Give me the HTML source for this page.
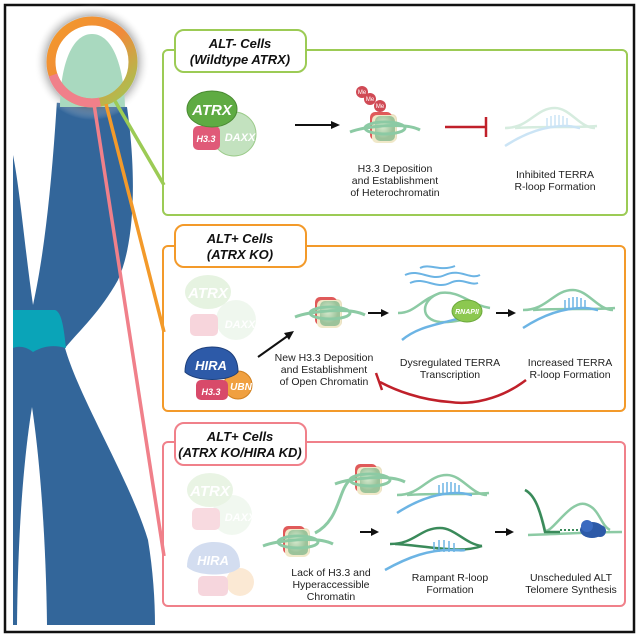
<!DOCTYPE html>
<html><head><meta charset="utf-8"><style>
html,body{margin:0;padding:0;background:#fff}
svg{display:block}
text{font-family:"Liberation Sans",sans-serif}
.h{font-weight:bold;font-style:italic;font-size:13px;fill:#111}
.t{font-size:10.5px;fill:#222}
.w{font-weight:bold;font-style:italic;fill:#fff}
</style></head><body>
<svg width="640" height="637" viewBox="0 0 640 637" xmlns="http://www.w3.org/2000/svg">
<defs>
<linearGradient id="ring" x1="0" y1="0" x2="1" y2="1">
<stop offset="0" stop-color="#f39a2a"/><stop offset="0.5" stop-color="#f08a3a"/><stop offset="1" stop-color="#9ccb55"/></linearGradient>
<radialGradient id="glow"><stop offset="0" stop-color="#fff" stop-opacity="0"/><stop offset="0.68" stop-color="#fff" stop-opacity="0"/><stop offset="0.8" stop-color="#888" stop-opacity="0.5"/><stop offset="1" stop-color="#fff" stop-opacity="0"/></radialGradient>
<radialGradient id="nuc" cx="0.4" cy="0.4"><stop offset="0" stop-color="#d8ebd0"/><stop offset="1" stop-color="#9cc39a"/></radialGradient>
<g id="nucl">
<rect x="-12" y="-14" width="24" height="28" rx="5" fill="#e8e0c0"/>
<rect x="-15" y="-16" width="22" height="28" rx="5" fill="#e05a5a"/>
<rect x="-13" y="-13" width="24" height="28" rx="5" fill="#f0e8c8"/>
<rect x="-10" y="-12" width="20" height="25" rx="5" fill="url(#nuc)"/>
<path d="M-35,4 C-20,-2 20,-6 35,2" stroke="#8ccaa4" stroke-width="3" fill="none"/>
<ellipse cx="0" cy="0" rx="20" ry="6" stroke="#8ccaa4" stroke-width="3" fill="none"/>
</g>
<g id="rloop">
<path d="M0,20 C25,20 30,0 50,0 C65,0 75,20 90,20" stroke="#8ccaa4" stroke-width="2.5" fill="none"/>
<path d="M10,20 C40,18 70,20 92,18" stroke="#8ccaa4" stroke-width="2.5" fill="none"/>
<path d="M0,38 C20,25 40,18 60,18 C70,18 72,20 75,20" stroke="#6cb4e4" stroke-width="2.5" fill="none"/>
<g stroke="#6cb4e4" stroke-width="1.5">
<line x1="42" y1="10" x2="42" y2="20"/><line x1="46" y1="8" x2="46" y2="19"/><line x1="50" y1="7" x2="50" y2="19"/><line x1="54" y1="7" x2="54" y2="19"/><line x1="58" y1="8" x2="58" y2="19"/><line x1="62" y1="10" x2="62" y2="19"/></g>
</g>
</defs>
<rect x="5" y="5" width="629" height="627" fill="#fff" stroke="#111" stroke-width="2.5"/>
<!-- chromosome -->
<path d="M13,100 L127,107 C136,170 136,240 118,280 C100,312 80,330 65,348 C80,400 130,480 148,540 C153,570 155,600 155,625 L13,625 Z" fill="#33669a"/>
<path d="M13,100 L57,100 C52,180 45,250 33,305 C25,250 20,190 13,155 Z" fill="#fff"/>
<path d="M17,625 C18,520 25,450 32,407 C40,460 46,540 47,625 Z" fill="#fff"/>
<path d="M13,310 L55,310 C62,312 64,330 66,348 C55,345 45,345 33,352 C25,346 18,346 13,348 Z" fill="#0aa4b8"/>
<circle cx="92" cy="62" r="58" fill="url(#glow)"/>
<path d="M60,107 C60,70 70,34 92,34 C114,34 124,70 125,107 Z" fill="#a9d9bf"/>
<circle cx="92" cy="62" r="41" fill="none" stroke="url(#ring)" stroke-width="9"/>
<path d="M53,75 A41,41 0 0 0 100,102" fill="none" stroke="#f0808a" stroke-width="9"/>
<line x1="115" y1="101" x2="164" y2="185" stroke="#9ccb55" stroke-width="3.5"/>
<line x1="106" y1="104" x2="164" y2="332" stroke="#f39a2a" stroke-width="3.5"/>
<line x1="94" y1="104" x2="164" y2="556" stroke="#f0808a" stroke-width="3.5"/>
<!-- panels -->
<rect x="163" y="50" width="464" height="165" rx="5" fill="none" stroke="#9ccb55" stroke-width="2"/>
<rect x="175" y="30" width="131" height="42" rx="9" fill="#fff" stroke="#9ccb55" stroke-width="2"/>
<text class="h" x="240" y="48" text-anchor="middle">ALT- Cells</text>
<text class="h" x="240" y="64" text-anchor="middle">(Wildtype ATRX)</text>
<rect x="163" y="246" width="462" height="165" rx="5" fill="none" stroke="#f39a2a" stroke-width="2"/>
<rect x="175" y="225" width="131" height="42" rx="9" fill="#fff" stroke="#f39a2a" stroke-width="2"/>
<text class="h" x="240" y="243" text-anchor="middle">ALT+ Cells</text>
<text class="h" x="240" y="259" text-anchor="middle">(ATRX KO)</text>
<rect x="163" y="442" width="462" height="164" rx="5" fill="none" stroke="#f0808a" stroke-width="2"/>
<rect x="175" y="423" width="131" height="42" rx="9" fill="#fff" stroke="#f0808a" stroke-width="2"/>
<text class="h" x="240" y="441" text-anchor="middle">ALT+ Cells</text>
<text class="h" x="240" y="457" text-anchor="middle">(ATRX KO/HIRA KD)</text>
<!-- green panel -->
<circle cx="234" cy="134" r="22" fill="#c3e2bf" stroke="#9ccb8a"/>
<rect x="193" y="126" width="27" height="24" rx="5" fill="#e05a78"/>
<ellipse cx="212" cy="109" rx="25" ry="18" fill="#5fab43" stroke="#4a8a32"/>
<text class="w" x="212" y="115" text-anchor="middle" font-size="15">ATRX</text>
<text class="w" x="206" y="142" text-anchor="middle" font-size="9">H3.3</text>
<text class="w" x="240" y="141" text-anchor="middle" font-size="11">DAXX</text>
<line x1="295" y1="125" x2="333" y2="125" stroke="#111" stroke-width="2"/><path d="M340,125 L331,121 L331,129 Z" fill="#111"/>
<use href="#nucl" x="385" y="128"/>
<circle cx="362" cy="92" r="6" fill="#d04a55"/><circle cx="370" cy="99" r="6" fill="#d04a55"/><circle cx="380" cy="106" r="6" fill="#d04a55"/>
<text x="362" y="94" font-size="6" fill="#fff" text-anchor="middle">Me</text><text x="370" y="101" font-size="6" fill="#fff" text-anchor="middle">Me</text><text x="380" y="108" font-size="6" fill="#fff" text-anchor="middle">Me</text>
<line x1="445" y1="127" x2="486" y2="127" stroke="#c0202a" stroke-width="2.5"/><line x1="486" y1="117" x2="486" y2="137" stroke="#c0202a" stroke-width="2.5"/>
<g opacity="0.35"><use href="#rloop" x="505" y="108"/></g>
<text class="t" text-anchor="middle" x="395" y="172">H3.3 Deposition</text>
<text class="t" text-anchor="middle" x="395" y="184">and Establishment</text>
<text class="t" text-anchor="middle" x="395" y="196">of Heterochromatin</text>
<text class="t" text-anchor="middle" x="555" y="178">Inhibited TERRA</text>
<text class="t" text-anchor="middle" x="555" y="190">R-loop Formation</text>
<!-- orange panel -->
<g opacity="0.25">
<circle cx="236" cy="320" r="20" fill="#c3e2bf"/><rect x="190" y="314" width="28" height="22" rx="5" fill="#e05a78"/>
<ellipse cx="208" cy="292" rx="23" ry="17" fill="#9fd08a"/>
<text class="w" x="208" y="298" text-anchor="middle" font-size="15">ATRX</text><text class="w" x="240" y="328" text-anchor="middle" font-size="11">DAXX</text></g>
<circle cx="238" cy="385" r="14" fill="#f0a040" stroke="#d08020"/>
<rect x="196" y="380" width="32" height="20" rx="5" fill="#d84a6a"/>
<path d="M185,372 C185,352 200,347 212,347 C228,347 238,355 238,372 C230,382 195,382 185,372 Z" fill="#2d5aa8" stroke="#1e3f7a"/>
<text class="w" x="211" y="370" text-anchor="middle" font-size="13">HIRA</text>
<text class="w" x="211" y="395" text-anchor="middle" font-size="9">H3.3</text>
<text class="w" x="241" y="390" text-anchor="middle" font-size="10">UBN</text>
<line x1="258" y1="357" x2="289" y2="335" stroke="#111" stroke-width="2"/><path d="M294,331 L284,333 L289,340 Z" fill="#111"/>
<use href="#nucl" x="330" y="313"/>
<line x1="368" y1="313" x2="382" y2="313" stroke="#111" stroke-width="2"/><path d="M389,313 L381,309 L381,317 Z" fill="#111"/>
<path d="M405,275 C420,268 430,282 445,275 C460,268 470,280 480,275" stroke="#6cb4e4" stroke-width="2" fill="none"/>
<path d="M410,283 C425,276 435,290 450,283 C462,277 470,286 478,283" stroke="#6cb4e4" stroke-width="2" fill="none"/>
<path d="M420,268 C430,263 440,272 455,266" stroke="#6cb4e4" stroke-width="2" fill="none"/>
<path d="M398,313 C415,313 420,300 440,293 C460,290 470,305 490,308" stroke="#8ccaa4" stroke-width="2.5" fill="none"/>
<path d="M440,293 C420,300 420,320 440,322 C455,323 470,318 480,315" stroke="#8ccaa4" stroke-width="2.5" fill="none"/>
<path d="M402,340 C420,325 440,325 470,315" stroke="#6cb4e4" stroke-width="2.5" fill="none"/>
<ellipse cx="467" cy="311" rx="15" ry="11" fill="#8cc850" stroke="#6aa83a"/>
<text class="w" x="467" y="314" text-anchor="middle" font-size="7">RNAPII</text>
<line x1="496" y1="313" x2="509" y2="313" stroke="#111" stroke-width="2"/><path d="M516,313 L508,309 L508,317 Z" fill="#111"/>
<use href="#rloop" x="523" y="290"/>
<text class="t" text-anchor="middle" x="324" y="361">New H3.3 Deposition</text>
<text class="t" text-anchor="middle" x="324" y="373">and Establishment</text>
<text class="t" text-anchor="middle" x="324" y="385">of Open Chromatin</text>
<text class="t" text-anchor="middle" x="450" y="366">Dysregulated TERRA</text>
<text class="t" text-anchor="middle" x="450" y="378">Transcription</text>
<text class="t" text-anchor="middle" x="570" y="366">Increased TERRA</text>
<text class="t" text-anchor="middle" x="570" y="378">R-loop Formation</text>
<path d="M526,380 C500,400 470,405 450,402 C420,400 395,390 380,382" stroke="#c0202a" stroke-width="2.5" fill="none"/>
<line x1="376" y1="373" x2="382" y2="390" stroke="#c0202a" stroke-width="2.5"/>
<!-- pink panel -->
<g opacity="0.22">
<circle cx="232" cy="515" r="20" fill="#c3e2bf"/><rect x="192" y="508" width="28" height="22" rx="5" fill="#e05a78"/>
<ellipse cx="210" cy="490" rx="23" ry="17" fill="#9fd08a"/>
<text class="w" x="210" y="496" text-anchor="middle" font-size="15">ATRX</text><text class="w" x="240" y="521" text-anchor="middle" font-size="11">DAXX</text>
<circle cx="240" cy="582" r="14" fill="#f0a040"/><rect x="198" y="576" width="30" height="20" rx="5" fill="#d84a6a"/>
<path d="M187,567 C187,547 202,542 214,542 C230,542 240,550 240,567 C232,577 197,577 187,567 Z" fill="#3a6ac0"/>
<text class="w" x="213" y="565" text-anchor="middle" font-size="13">HIRA</text></g>
<path d="M315,533 C340,520 338,490 350,480 C356,475 362,472 372,472" stroke="#8ccaa4" stroke-width="3" fill="none"/>
<use href="#nucl" x="298" y="542"/>
<use href="#nucl" x="370" y="480"/>
<line x1="360" y1="532" x2="372" y2="532" stroke="#111" stroke-width="2"/><path d="M379,532 L371,528 L371,536 Z" fill="#111"/>
<use href="#rloop" x="397" y="475"/>
<g transform="translate(390,528)">
<path d="M0,16 C25,16 30,0 50,0 C65,0 75,16 92,18" stroke="#3a8a5a" stroke-width="2.5" fill="none"/>
<path d="M5,16 C40,18 70,26 92,18" stroke="#3a8a5a" stroke-width="2.5" fill="none"/>
<path d="M-5,42 C20,28 40,22 60,22 C70,22 72,23 75,22" stroke="#6cb4e4" stroke-width="2.5" fill="none"/>
<g stroke="#6cb4e4" stroke-width="1.5"><line x1="44" y1="14" x2="44" y2="24"/><line x1="49" y1="12" x2="49" y2="24"/><line x1="54" y1="12" x2="54" y2="24"/><line x1="59" y1="13" x2="59" y2="24"/><line x1="64" y1="15" x2="64" y2="24"/></g></g>
<line x1="495" y1="532" x2="507" y2="532" stroke="#111" stroke-width="2"/><path d="M514,532 L506,528 L506,536 Z" fill="#111"/>
<path d="M528,535 C560,534 590,532 622,532" stroke="#8ccaa4" stroke-width="2.5" fill="none"/>
<path d="M525,490 C535,495 540,510 545,530 C550,536 570,500 585,504 C600,508 600,525 610,530" stroke="#8ccaa4" stroke-width="2.5" fill="none"/>
<path d="M525,490 C535,495 540,510 545,532 L560,532" stroke="#3a8a5a" stroke-width="2.5" fill="none"/>
<line x1="560" y1="530" x2="583" y2="530" stroke="#3a8a5a" stroke-width="2" stroke-dasharray="2,2"/>
<ellipse cx="592" cy="530" rx="12" ry="8" fill="#2d5aa8"/><circle cx="587" cy="526" r="6" fill="#3a6ac0"/><circle cx="600" cy="531" r="6" fill="#2d5aa8"/>
<text class="t" text-anchor="middle" x="331" y="576">Lack of H3.3 and</text>
<text class="t" text-anchor="middle" x="331" y="588">Hyperaccessible</text>
<text class="t" text-anchor="middle" x="331" y="600">Chromatin</text>
<text class="t" text-anchor="middle" x="450" y="581">Rampant R-loop</text>
<text class="t" text-anchor="middle" x="450" y="593">Formation</text>
<text class="t" text-anchor="middle" x="571" y="581">Unscheduled ALT</text>
<text class="t" text-anchor="middle" x="571" y="593">Telomere Synthesis</text>
</svg>
</body></html>
